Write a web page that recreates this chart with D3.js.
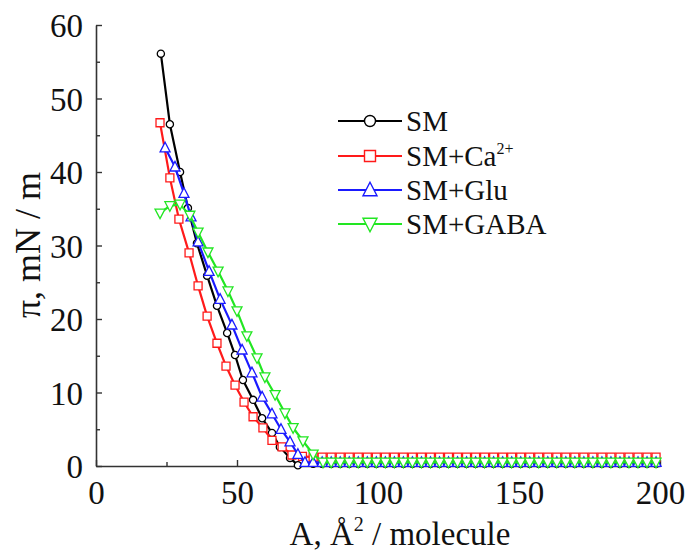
<!DOCTYPE html>
<html><head><meta charset="utf-8">
<script src="https://cdn.jsdelivr.net/npm/d3@7"></script>
<style>html,body{margin:0;padding:0;background:#fff;}svg{display:block;}</style>
</head><body>
<svg id="chart" width="692" height="553"></svg>
<script>
// ---- data ----
const seriesNames = ["SM", "SM+Ca²⁺", "SM+Glu", "SM+GABA"];
const xTicks = [0, 50, 100, 150, 200];
const yTicks = [0, 10, 20, 30, 40, 50, 60];

const plateauA = [77.0, 80.2, 83.4, 86.6, 89.8, 93.0, 96.2, 99.4, 102.6, 105.8, 109.0, 112.2, 115.4, 118.6, 121.8, 125.0, 128.2, 131.4, 134.6, 137.8, 141.0, 144.2, 147.4, 150.6, 153.8, 157.0, 160.2, 163.4, 166.6, 169.8, 173.0, 176.2, 179.4, 182.6, 185.8, 189.0, 192.2, 195.4, 198.6];

const smA  = [23.0, 26.2, 29.8, 32.6, 35.8, 39.4, 42.9, 46.5, 49.3, 52.1, 55.7, 58.9, 62.4, 65.2, 68.8, 71.6];
const smPi = [56.1, 46.5, 40.0, 35.1, 30.3, 25.9, 21.8, 18.1, 15.1, 11.7, 9.0, 6.5, 4.5, 2.6, 1.1, 0.1];
const smPlateauPi = [0.3, 0.3, 0.3, 0.3, 0.3, 0.3, 0.3, 0.3, 0.3, 0.3, 0.3, 0.3, 0.3, 0.3, 0.3, 0.3, 0.3, 0.3, 0.3, 0.3, 0.3, 0.3, 0.3, 0.3, 0.3, 0.3, 0.3, 0.3, 0.3, 0.3, 0.3, 0.3, 0.3, 0.3, 0.3, 0.3, 0.3, 0.3, 0.3];

const caA  = [22.7, 26.2, 29.4, 33.0, 36.2, 39.4, 42.9, 46.1, 49.3, 52.5, 55.7, 59.2, 62.4, 66.0, 69.5, 73.2];
const caPi = [46.7, 39.2, 33.6, 29.0, 24.5, 20.4, 16.7, 13.6, 11.0, 8.7, 6.7, 5.2, 3.5, 2.6, 1.5, 1.3];
const caPlateauPi = [1.2, 1.2, 1.2, 1.2, 1.2, 1.2, 1.2, 1.2, 1.2, 1.2, 1.2, 1.2, 1.2, 1.2, 1.2, 1.2, 1.2, 1.2, 1.2, 1.2, 1.2, 1.2, 1.2, 1.2, 1.2, 1.2, 1.2, 1.2, 1.2, 1.2, 1.2, 1.2, 1.2, 1.2, 1.2, 1.2, 1.2, 1.2, 1.2];

const gluA  = [24.5, 28.0, 31.2, 33.7, 36.2, 40.1, 44.0, 48.2, 51.8, 55.3, 58.9, 62.4, 65.6, 68.8, 71.6, 74.1];
const gluPi = [43.3, 40.7, 37.1, 33.9, 30.5, 26.5, 22.7, 19.2, 15.8, 12.7, 9.4, 7.1, 5.0, 3.3, 1.6, 0.5];
const gluPlateauPi = [0.5, 0.5, 0.5, 0.5, 0.5, 0.5, 0.5, 0.5, 0.5, 0.5, 0.5, 0.5, 0.5, 0.5, 0.5, 0.5, 0.5, 0.5, 0.5, 0.5, 0.5, 0.5, 0.5, 0.5, 0.5, 0.5, 0.5, 0.5, 0.5, 0.5, 0.5, 0.5, 0.5, 0.5, 0.5, 0.5, 0.5, 0.5, 0.5];

const gabaA  = [22.7, 26.2, 29.8, 33.3, 36.2, 39.7, 43.3, 46.8, 50.0, 53.5, 57.1, 59.9, 63.5, 67.0, 69.9, 73.4, 77.0, 80.5];
const gabaPi = [34.4, 35.4, 35.6, 34.1, 31.8, 29.1, 26.5, 23.8, 21.1, 17.7, 14.7, 12.1, 9.7, 7.2, 5.2, 3.4, 1.6, 0.5];
const gabaPlateauPi = [0.5, 0.5, 0.5, 0.5, 0.5, 0.5, 0.5, 0.5, 0.5, 0.5, 0.5, 0.5, 0.5, 0.5, 0.5, 0.5, 0.5, 0.5, 0.5, 0.5, 0.5, 0.5, 0.5, 0.5, 0.5, 0.5, 0.5, 0.5, 0.5, 0.5, 0.5, 0.5, 0.5, 0.5, 0.5, 0.5, 0.5];

const colors = ["#000000", "#ff1a1a", "#1a1aff", "#22e622"];
const markers = ["circle", "square", "triUp", "triDown"];

// ---- build ----
function zipPts(a, p) { return a.map((v, i) => [v, p[i]]); }
function withPlateau(a, p, plat, startIdx) {
  const pts = zipPts(a, p);
  plat.forEach((v, i) => pts.push([plateauA[i + startIdx], v]));
  return pts;
}
const series = [
  withPlateau(smA, smPi, smPlateauPi, 0),
  withPlateau(caA, caPi, caPlateauPi, 0),
  withPlateau(gluA, gluPi, gluPlateauPi, 0),
  withPlateau(gabaA, gabaPi, gabaPlateauPi, 2)
];

const svg = d3.select("#chart");
const mLeft = 96, mRight = 660, mTop = 25, mBottom = 466;
const x = d3.scaleLinear().domain([0, 200]).range([mLeft, mRight]);
const y = d3.scaleLinear().domain([0, 60]).range([mBottom, mTop]);
const font = "'Liberation Serif','Times New Roman',serif";
const axisColor = "#333";

// axes
const gx = svg.append("g").attr("transform", `translate(0,${mBottom})`)
  .call(d3.axisBottom(x).tickValues(xTicks).tickSize(-6).tickPadding(15).tickSizeOuter(0));
const gxm = svg.append("g").attr("transform", `translate(0,${mBottom})`)
  .call(d3.axisBottom(x).tickValues([25, 75, 125, 175]).tickSize(-4).tickFormat("").tickSizeOuter(0));
const gy = svg.append("g").attr("transform", `translate(${mLeft},0)`)
  .call(d3.axisLeft(y).tickValues(yTicks).tickSize(-6).tickPadding(13).tickSizeOuter(0));
const gym = svg.append("g").attr("transform", `translate(${mLeft},0)`)
  .call(d3.axisLeft(y).tickValues([5, 15, 25, 35, 45, 55]).tickSize(-4).tickFormat("").tickSizeOuter(0));
[gx, gxm, gy, gym].forEach(g => {
  g.selectAll("path.domain").attr("stroke", axisColor).attr("stroke-width", 1.6);
  g.selectAll(".tick line").attr("stroke", axisColor).attr("stroke-width", 1.4);
  g.selectAll("text").attr("font-family", font).attr("font-size", 33).attr("fill", "#111");
});
gxm.select("path.domain").remove();
gym.select("path.domain").remove();
gy.selectAll("text").attr("dy", "0.35em");
gx.selectAll("text").attr("dy", "0.71em");

// axis titles
const xt = svg.append("text").attr("x", 400).attr("y", 545).attr("text-anchor", "middle")
  .attr("font-family", font).attr("font-size", 33).attr("fill", "#111");
xt.append("tspan").text("A, Å");
xt.append("tspan").attr("dy", -14).attr("font-size", 20).text("2");
xt.append("tspan").attr("dy", 14).text(" / molecule");

svg.append("text").attr("transform", "translate(40,245) rotate(-90)")
  .attr("text-anchor", "middle").attr("font-family", font).attr("font-size", 36).attr("fill", "#111")
  .text("π, mN / m");

// markers
function markerPath(type, s) {
  if (type === "circle") return d3.symbol().type(d3.symbolCircle).size(Math.PI * s * s)();
  if (type === "square") return `M${-s},${-s}H${s}V${s}H${-s}Z`;
  if (type === "triUp") { const h = s * 1.1; return `M0,${-h}L${s},${h * 0.75}L${-s},${h * 0.75}Z`; }
  const h = s * 1.1; return `M0,${h}L${s},${-h * 0.75}L${-s},${-h * 0.75}Z`;
}
const plotSizes = {circle: 3.6, square: 4, triUp: 5, triDown: 5};
const line = d3.line().x(d => x(d[0])).y(d => y(d[1]));

series.forEach((pts, i) => {
  const g = svg.append("g");
  g.append("path").datum(pts).attr("d", line).attr("fill", "none")
    .attr("stroke", colors[i]).attr("stroke-width", 2.2);
  g.selectAll("path.m").data(pts).enter().append("path").attr("class", "m")
    .attr("transform", d => `translate(${x(d[0])},${y(d[1])})`)
    .attr("d", markerPath(markers[i], plotSizes[markers[i]]))
    .attr("fill", "#fff").attr("stroke", colors[i]).attr("stroke-width", 1.3);
});

// legend
const legendY = [121, 156, 190, 224];
const legendSizes = {circle: 5.5, square: 5.5, triUp: 7, triDown: 7};
seriesNames.forEach((name, i) => {
  const g = svg.append("g").attr("transform", `translate(0,${legendY[i]})`);
  g.append("line").attr("x1", 338).attr("x2", 402).attr("y1", 0).attr("y2", 0)
    .attr("stroke", colors[i]).attr("stroke-width", 2);
  g.append("path").attr("transform", "translate(370,0)")
    .attr("d", markerPath(markers[i], legendSizes[markers[i]]))
    .attr("fill", "#fff").attr("stroke", colors[i]).attr("stroke-width", 1.4);
  const t = g.append("text").attr("x", 406).attr("y", 10).attr("font-family", font)
    .attr("font-size", 29).attr("fill", "#111");
  if (i === 1) {
    t.append("tspan").text("SM+Ca");
    t.append("tspan").attr("dy", -12).attr("font-size", 16).text("2+");
  } else {
    t.text(name);
  }
});
</script>
</body></html>
